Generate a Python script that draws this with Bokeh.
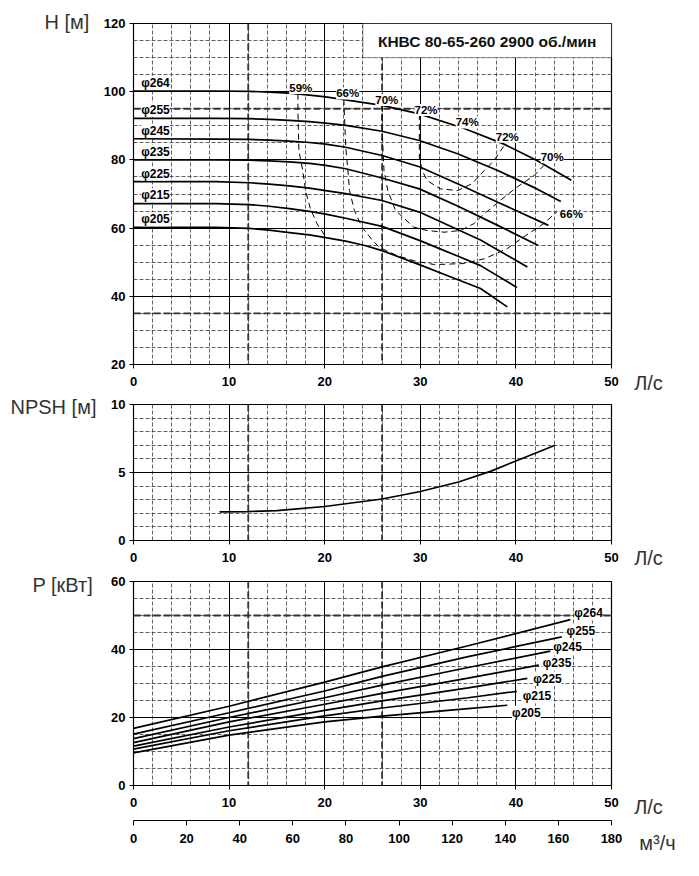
from bokeh.plotting import figure
from bokeh.models import Range1d, LinearAxis, SingleIntervalTicker, Span, BoxAnnotation, Label
from bokeh.layouts import column
from bokeh.embed import file_html
from bokeh.resources import INLINE

FONT = "Liberation Sans"

# ---------------- data ----------------
diameters = ["φ264", "φ255", "φ245", "φ235", "φ225", "φ215", "φ205"]

# H-Q curves (Q in L/s, H in m)
q_264 = [0, 8.6, 12.1, 14.2, 16.3, 18.4, 20.1, 22.2, 26, 29.9, 34.6, 38.7, 42.2, 45.8]
h_264 = [100.2, 100.2, 100.1, 99.9, 99.6, 99.0, 98.5, 97.6, 96.0, 93.5, 89.2, 84.7, 79.8, 74.0]
q_255 = [0, 8.6, 12.1, 14.2, 16.3, 18.4, 20.1, 22.2, 26, 29.9, 33.9, 38.1, 42.2, 44.7]
h_255 = [92.2, 92.2, 92.1, 91.9, 91.6, 91.2, 90.8, 90.1, 88.4, 85.7, 81.8, 76.9, 71.5, 67.8]
q_245 = [0, 8.6, 12.1, 14.2, 16.3, 18.4, 20.1, 22.2, 26, 29.9, 33.9, 38.1, 43.4]
h_245 = [86.2, 86.1, 86.0, 85.8, 85.5, 85.1, 84.6, 83.7, 81.3, 78.0, 73.0, 67.6, 60.8]
q_235 = [0, 8.6, 12.1, 14.2, 16.3, 18.4, 20.1, 22.2, 26, 29.9, 33.9, 38.1, 42.3]
h_235 = [80.0, 80.0, 79.9, 79.7, 79.4, 79.0, 78.4, 77.4, 74.7, 71.5, 66.5, 60.8, 55.0]
q_225 = [0, 8.6, 12.1, 14.2, 16.3, 18.4, 20.1, 22.2, 26, 29.9, 33.9, 36.3, 41.2]
h_225 = [73.6, 73.6, 73.3, 72.9, 72.4, 71.7, 71.0, 70.1, 68.1, 64.7, 59.6, 56.5, 48.6]
q_215 = [0, 8.6, 12.1, 14.2, 16.3, 18.4, 20.1, 22.2, 26, 29.9, 33.9, 36.3, 40.1]
h_215 = [67.2, 67.2, 66.9, 66.4, 65.7, 64.9, 64.1, 62.9, 60.5, 56.4, 51.8, 49.0, 42.6]
q_205 = [0, 8.6, 12.1, 14.2, 16.3, 18.4, 20.1, 22.2, 24.2, 26, 29.9, 33.0, 36.3, 39.1]
h_205 = [60.2, 60.2, 59.9, 59.4, 58.7, 58.0, 57.2, 56.2, 54.9, 53.4, 49.3, 45.9, 42.3, 36.9]

# iso-efficiency contours
eff_59_q = [17.2, 17.2, 17.3, 17.7, 18.0, 18.5, 19.2, 20.1]
eff_59_h = [99.4, 94.4, 82.7, 76.9, 71.0, 65.7, 61.3, 57.4]
eff_66_q = [22.0, 22.1, 22.2, 22.4, 22.6, 23.1, 23.9, 25.0, 25.7, 27.5, 29.5, 31.5, 34.5, 36.7, 39.1, 40.8, 42.9, 44.3]
eff_66_h = [97.8, 90.5, 83.7, 77.8, 71.0, 65.2, 60.3, 56.4, 54.4, 52.0, 50.3, 49.3, 49.6, 51.0, 54.0, 57.4, 61.3, 64.8]
eff_70_q = [26.0, 26.0, 26.1, 26.2, 26.6, 27.4, 29.3, 30.7, 32.5, 34.2, 35.6, 36.7, 38.4, 40.1, 41.9, 42.9]
eff_70_h = [96.0, 90.0, 83.0, 76.9, 71.0, 65.2, 60.3, 59.3, 58.8, 59.3, 61.3, 64.2, 68.2, 72.0, 75.4, 78.3]
eff_72_q = [29.9, 29.9, 30.2, 30.7, 32.1, 33.9, 35.4, 36.7, 37.7, 38.8]
eff_72_h = [93.5, 80.8, 76.9, 74.0, 71.5, 71.0, 73.0, 76.9, 79.8, 84.3]

eff_labels = ["59%", "66%", "70%", "72%", "74%", "72%", "70%", "66%"]
eff_label_q = [17.5, 22.4, 26.5, 30.6, 34.9, 39.1, 43.8, 45.8]
eff_label_h = [101.1, 99.5, 97.6, 94.6, 91.0, 86.8, 80.8, 64.2]

# NPSH curve
npsh_q = [9.0, 12, 15, 20, 26, 30, 34, 37.4, 40, 44.1]
npsh_h = [2.1, 2.13, 2.2, 2.5, 3.05, 3.6, 4.3, 5.1, 5.85, 7.0]

# Power curves (kW)
pq_264 = [0, 10, 20, 26, 35, 45.7]
p_264 = [16.8, 23.3, 30.4, 34.9, 41.1, 48.8]
pq_255 = [0, 10, 20, 26, 35, 44.8]
p_255 = [15.1, 21.4, 27.8, 32.1, 37.9, 43.7]
pq_245 = [0, 10, 20, 26, 35, 43.6]
p_245 = [13.8, 20.0, 25.8, 29.5, 34.7, 39.5]
pq_235 = [0, 10, 20, 26, 35, 42.4]
p_235 = [12.6, 18.7, 23.9, 27.1, 31.6, 35.4]
pq_225 = [0, 10, 20, 26, 35, 41.2]
p_225 = [11.6, 17.2, 22.1, 24.9, 28.7, 31.5]
pq_215 = [0, 10, 20, 26, 35, 40.1]
p_215 = [10.7, 16.1, 20.5, 22.8, 25.8, 27.7]
pq_205 = [0, 10, 20, 26, 35, 39.1]
p_205 = [9.6, 14.8, 18.7, 20.4, 22.6, 23.6]

# label positions of the diameter tags on the power chart
p_label_q = [47.6, 46.8, 45.4, 44.3, 43.3, 42.2, 41.1]
p_label_p = [50.6, 45.4, 40.6, 35.9, 31.3, 26.4, 21.4]

title_text = "КНВС 80-65-260 2900 об./мин"

hq = [(q_264, h_264), (q_255, h_255), (q_245, h_245), (q_235, h_235),
      (q_225, h_225), (q_215, h_215), (q_205, h_205)]
pq = [(pq_264, p_264), (pq_255, p_255), (pq_245, p_245), (pq_235, p_235),
      (pq_225, p_225), (pq_215, p_215), (pq_205, p_205)]
effs = [(eff_59_q, eff_59_h), (eff_66_q, eff_66_h), (eff_70_q, eff_70_h), (eff_72_q, eff_72_h)]

# ---------------- styling helpers ----------------
W = 691
XR = Range1d(0, 50)


def make_fig(height, yr, yint, border_top, border_bottom):
    p = figure(width=W, height=height, x_range=XR, y_range=yr,
               output_backend="svg", toolbar_location=None,
               min_border_left=133, min_border_right=80,
               min_border_top=border_top, min_border_bottom=border_bottom)
    p.background_fill_color = "white"
    p.border_fill_color = "white"
    p.outline_line_color = "black"
    p.outline_line_width = 1.2
    xt = SingleIntervalTicker(interval=10, num_minor_ticks=5)
    yt = SingleIntervalTicker(interval=yint, num_minor_ticks=(5 if yint == 5 else 4))
    p.xaxis.ticker = xt
    p.yaxis.ticker = yt
    p.xgrid.ticker = xt
    p.ygrid.ticker = yt
    for g in (p.xgrid, p.ygrid):
        g.grid_line_color = "black"
        g.grid_line_width = 1
        g.grid_line_alpha = 1
        g.minor_grid_line_color = "#3a3a3a"
        g.minor_grid_line_dash = "4 2"
        g.minor_grid_line_width = 0.8
    for ax in (p.xaxis, p.yaxis):
        ax.axis_line_color = "black"
        ax.major_tick_line_color = "black"
        ax.minor_tick_line_color = None
        ax.major_tick_in = 0
        ax.major_tick_out = 4
        ax.major_label_text_font = FONT
        ax.major_label_text_font_style = "bold"
        ax.major_label_text_font_size = "13px"
        ax.major_label_text_color = "black"
    p.xaxis.major_label_standoff = 8
    p.yaxis.major_label_standoff = 4
    return p


def heavy(p, loc, dim):
    p.add_layout(Span(location=loc, dimension=dim, line_color="#333333",
                      line_width=1.8, line_dash="7 3", level="underlay"))


def unit_label(p, side, x, y, text, align="left"):
    # placed in a side panel: offsets (px) from that panel's lower-left corner
    p.add_layout(Label(x=x, y=y, x_units="screen", y_units="screen", text=text,
                       text_font=FONT, text_font_size="20px", text_color="#333333",
                       text_align=align, text_baseline="middle"), side)


def tag(p, x, y, text, size="12px", align="left"):
    p.add_layout(Label(x=x, y=y, text=text, text_font=FONT, text_font_size=size,
                       text_font_style="bold", text_color="black", text_align=align,
                       text_baseline="middle", background_fill_color="white",
                       background_fill_alpha=1))


# ---------------- H-Q chart ----------------
p1 = make_fig(394, Range1d(20, 120), 20, 23, 30)
heavy(p1, 12, "height")
heavy(p1, 26, "height")
heavy(p1, 95, "width")
heavy(p1, 35, "width")

for q, h in hq:
    p1.line(q, h, line_color="black", line_width=1.7)
for q, h in effs:
    p1.line(q, h, line_color="black", line_width=1, line_dash="6 4")

for name, (q, h) in zip(diameters, hq):
    tag(p1, 0.8, h[0] + 2.4, name)
for t, x, y in zip(eff_labels, eff_label_q, eff_label_h):
    tag(p1, x, y, t, size="11.5px", align="center")

p1.add_layout(BoxAnnotation(left=24, right=50, bottom=110, top=120, fill_color="white",
                            fill_alpha=1, line_color="black", line_width=1.2, level="annotation"))
p1.add_layout(Label(x=37, y=114.7, text=title_text, text_font=FONT, text_font_size="15.5px",
                    text_font_style="bold", text_color="#111111", text_align="center",
                    text_baseline="middle"))
unit_label(p1, "left", -11, 343, "H [м]")
unit_label(p1, "right", 37, -18, "Л/с", align="center")

# ---------------- NPSH chart ----------------
p2 = make_fig(178, Range1d(0, 10), 5, 10, 32)
heavy(p2, 12, "height")
heavy(p2, 26, "height")
p2.line(npsh_q, npsh_h, line_color="black", line_width=1.7)
unit_label(p2, "left", -12, 134, "NPSH [м]")
unit_label(p2, "right", 37, -17, "Л/с", align="center")

# ---------------- Power chart ----------------
p3 = make_fig(283, Range1d(0, 60), 20, 9, 70)
heavy(p3, 12, "height")
heavy(p3, 26, "height")
heavy(p3, 50, "width")
for q, pw in pq:
    p3.line(q, pw, line_color="black", line_width=1.7)
for name, x, y in zip(diameters, p_label_q, p_label_p):
    tag(p3, x, y, name, align="center")

p3.extra_x_ranges = {"m3h": Range1d(0, 180)}
ax2 = LinearAxis(x_range_name="m3h", ticker=SingleIntervalTicker(interval=20))
ax2.axis_line_color = "black"
ax2.major_tick_line_color = "black"
ax2.minor_tick_line_color = None
ax2.major_tick_in = 0
ax2.major_tick_out = 5
ax2.major_label_standoff = 8
ax2.major_label_text_font = FONT
ax2.major_label_text_font_style = "bold"
ax2.major_label_text_font_size = "13px"
ax2.major_label_text_color = "black"
p3.xaxis[0].axis_label = " "
p3.xaxis[0].axis_label_text_font_size = "6px"
p3.xaxis[0].axis_label_standoff = 2
p3.add_layout(ax2, "below")
unit_label(p3, "left", -15, 201, "P [кВт]")
unit_label(p3, "right", 37, -21, "Л/с", align="center")
unit_label(p3, "right", 17, -57, "м³/ч", align="center")

layout = column(p1, p2, p3)
open("out.html", "w").write(file_html(layout, INLINE))
